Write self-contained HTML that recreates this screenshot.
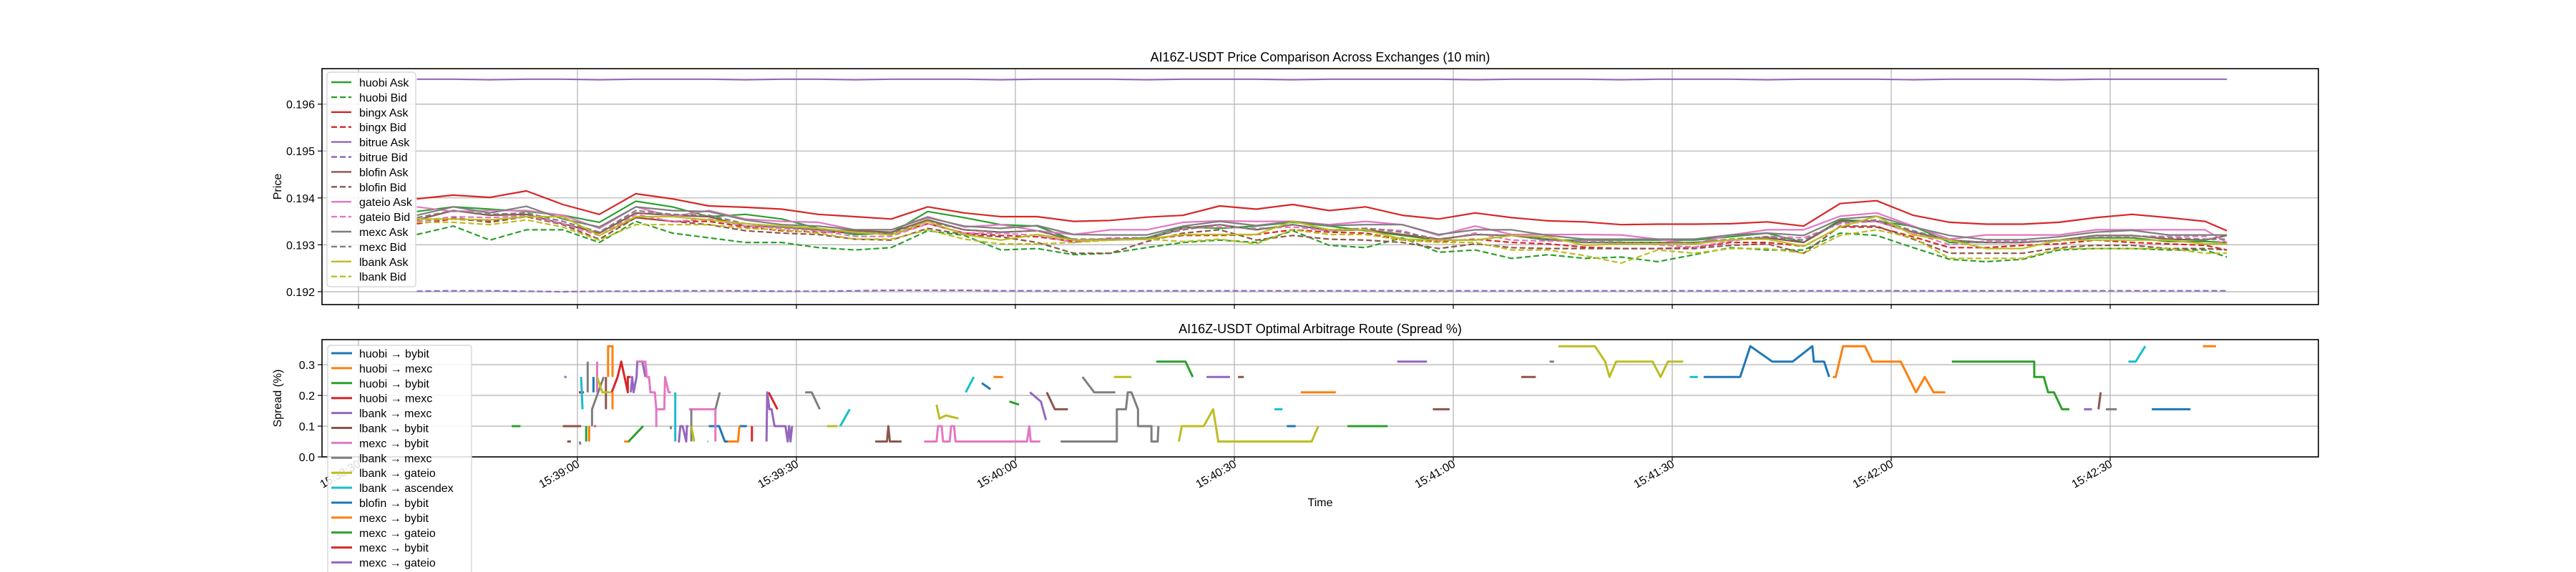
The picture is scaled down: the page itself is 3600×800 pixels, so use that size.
<!DOCTYPE html>
<html><head><meta charset="utf-8">
<style>
html,body{margin:0;padding:0;background:#fff;}
svg{display:block;font-family:"Liberation Sans","DejaVu Sans",sans-serif;}
</style></head>
<body>
<svg id="chart" width="3600" height="800" viewBox="0 0 3600 800" xmlns="http://www.w3.org/2000/svg">
<rect width="3600" height="800" fill="#fff"/>
<g id="gtop"></g><g id="gbot"></g>
</svg>
<script>
// ---------- top chart data (seconds since 15:38:30) ----------
const priceTimes = [8,13,18,23,28,33,38,43,48,53,58,63,68,73,78,83,88,93,98,103,108,113,118,123,128,133,138,143,148,153,158,163,168,173,178,183,188,193,198,203,208,213,218,223,228,233,238,243,248,253,256];
const huobiAsk = [0.19371,0.19381,0.19376,0.19371,0.19363,0.19348,0.19393,0.19381,0.19360,0.19365,0.19355,0.19335,0.19322,0.19325,0.19371,0.19358,0.19343,0.19340,0.19310,0.19310,0.19315,0.19338,0.19335,0.19340,0.19348,0.19340,0.19330,0.19320,0.19310,0.19310,0.19320,0.19310,0.19310,0.19310,0.19310,0.19310,0.19317,0.19325,0.19305,0.19353,0.19350,0.19340,0.19305,0.19305,0.19305,0.19310,0.19315,0.19315,0.19307,0.19307,0.19305];
const huobiBid = [0.19322,0.19340,0.19310,0.19332,0.19332,0.19305,0.19350,0.19325,0.19315,0.19305,0.19305,0.19294,0.19289,0.19294,0.19330,0.19320,0.19289,0.19292,0.19279,0.19282,0.19294,0.19305,0.19310,0.19305,0.19330,0.19299,0.19294,0.19315,0.19284,0.19289,0.19271,0.19279,0.19271,0.19274,0.19264,0.19279,0.19294,0.19289,0.19289,0.19325,0.19320,0.19294,0.19269,0.19264,0.19269,0.19289,0.19292,0.19292,0.19289,0.19289,0.19274];
const bingxAsk = [0.19398,0.19406,0.19401,0.19415,0.19386,0.19365,0.19409,0.19398,0.19383,0.19380,0.19376,0.19365,0.19360,0.19355,0.19381,0.19368,0.19360,0.19360,0.19350,0.19352,0.19359,0.19363,0.19383,0.19376,0.19386,0.19373,0.19381,0.19363,0.19355,0.19368,0.19358,0.19351,0.19349,0.19343,0.19344,0.19344,0.19345,0.19349,0.19340,0.19388,0.19394,0.19363,0.19348,0.19344,0.19344,0.19348,0.19358,0.19365,0.19358,0.19350,0.19330];
const bingxBid = [0.19345,0.19355,0.19350,0.19360,0.19345,0.19320,0.19358,0.19350,0.19350,0.19338,0.19330,0.19327,0.19327,0.19322,0.19345,0.19325,0.19320,0.19317,0.19307,0.19310,0.19312,0.19320,0.19320,0.19322,0.19332,0.19327,0.19325,0.19310,0.19307,0.19312,0.19305,0.19302,0.19295,0.19292,0.19292,0.19294,0.19305,0.19305,0.19297,0.19338,0.19338,0.19317,0.19294,0.19294,0.19299,0.19302,0.19310,0.19305,0.19302,0.19299,0.19289];
const bitrueAsk = [0.19653,0.19653,0.19652,0.19653,0.19653,0.19652,0.19653,0.19653,0.19653,0.19652,0.19653,0.19653,0.19652,0.19653,0.19653,0.19653,0.19652,0.19653,0.19653,0.19653,0.19652,0.19653,0.19653,0.19653,0.19652,0.19653,0.19653,0.19653,0.19653,0.19652,0.19653,0.19653,0.19653,0.19652,0.19653,0.19653,0.19653,0.19652,0.19653,0.19653,0.19653,0.19652,0.19653,0.19653,0.19653,0.19652,0.19653,0.19653,0.19653,0.19653,0.19653];
const bitrueBid = [0.19201,0.19202,0.19202,0.19201,0.19200,0.19201,0.19201,0.19202,0.19202,0.19202,0.19201,0.19201,0.19202,0.19203,0.19203,0.19203,0.19202,0.19202,0.19202,0.19202,0.19202,0.19202,0.19202,0.19202,0.19202,0.19202,0.19202,0.19202,0.19202,0.19202,0.19202,0.19202,0.19202,0.19202,0.19202,0.19202,0.19202,0.19202,0.19202,0.19202,0.19202,0.19202,0.19202,0.19202,0.19202,0.19202,0.19202,0.19202,0.19202,0.19202,0.19202];
const blofinAsk = [0.19353,0.19373,0.19363,0.19365,0.19345,0.19325,0.19368,0.19363,0.19360,0.19340,0.19338,0.19332,0.19330,0.19327,0.19353,0.19332,0.19327,0.19330,0.19310,0.19312,0.19312,0.19335,0.19343,0.19332,0.19343,0.19330,0.19332,0.19322,0.19312,0.19322,0.19320,0.19312,0.19305,0.19305,0.19305,0.19305,0.19310,0.19315,0.19305,0.19350,0.19350,0.19327,0.19310,0.19305,0.19305,0.19310,0.19320,0.19320,0.19312,0.19310,0.19320];
const blofinBid = [0.19350,0.19358,0.19348,0.19360,0.19343,0.19312,0.19358,0.19350,0.19343,0.19330,0.19325,0.19322,0.19312,0.19310,0.19335,0.19322,0.19317,0.19305,0.19282,0.19282,0.19307,0.19325,0.19332,0.19310,0.19320,0.19312,0.19310,0.19305,0.19292,0.19302,0.19294,0.19292,0.19292,0.19292,0.19292,0.19292,0.19299,0.19302,0.19282,0.19340,0.19340,0.19312,0.19282,0.19282,0.19282,0.19294,0.19299,0.19299,0.19292,0.19292,0.19289];
const gateioAsk = [0.19381,0.19371,0.19373,0.19373,0.19363,0.19335,0.19381,0.19360,0.19373,0.19355,0.19350,0.19348,0.19332,0.19332,0.19360,0.19338,0.19343,0.19330,0.19322,0.19332,0.19332,0.19348,0.19351,0.19350,0.19350,0.19343,0.19350,0.19343,0.19320,0.19340,0.19322,0.19322,0.19322,0.19321,0.19312,0.19302,0.19321,0.19332,0.19332,0.19361,0.19368,0.19340,0.19312,0.19321,0.19321,0.19321,0.19332,0.19332,0.19332,0.19332,0.19305];
const gateioBid = [0.19350,0.19360,0.19358,0.19362,0.19345,0.19320,0.19365,0.19350,0.19355,0.19340,0.19335,0.19330,0.19318,0.19318,0.19345,0.19325,0.19325,0.19320,0.19305,0.19315,0.19315,0.19335,0.19338,0.19335,0.19338,0.19330,0.19335,0.19330,0.19308,0.19325,0.19310,0.19308,0.19308,0.19306,0.19300,0.19295,0.19308,0.19318,0.19315,0.19345,0.19350,0.19325,0.19300,0.19308,0.19308,0.19308,0.19318,0.19318,0.19318,0.19318,0.19300];
const mexcAsk = [0.19363,0.19381,0.19368,0.19382,0.19355,0.19338,0.19381,0.19373,0.19371,0.19353,0.19343,0.19340,0.19332,0.19332,0.19358,0.19340,0.19335,0.19341,0.19322,0.19321,0.19321,0.19340,0.19350,0.19341,0.19350,0.19341,0.19343,0.19343,0.19322,0.19332,0.19332,0.19320,0.19312,0.19312,0.19312,0.19312,0.19321,0.19325,0.19320,0.19355,0.19361,0.19338,0.19320,0.19311,0.19311,0.19317,0.19327,0.19331,0.19321,0.19321,0.19321];
const mexcBid = [0.19358,0.19373,0.19365,0.19368,0.19350,0.19327,0.19373,0.19365,0.19363,0.19345,0.19338,0.19332,0.19325,0.19325,0.19350,0.19332,0.19327,0.19330,0.19312,0.19312,0.19315,0.19332,0.19343,0.19332,0.19343,0.19332,0.19335,0.19327,0.19312,0.19322,0.19320,0.19312,0.19305,0.19305,0.19305,0.19305,0.19312,0.19317,0.19310,0.19348,0.19353,0.19330,0.19310,0.19305,0.19305,0.19310,0.19320,0.19320,0.19315,0.19312,0.19312];
const lbankAsk = [0.19355,0.19355,0.19353,0.19360,0.19360,0.19320,0.19360,0.19360,0.19353,0.19345,0.19340,0.19335,0.19327,0.19321,0.19350,0.19322,0.19310,0.19322,0.19310,0.19310,0.19312,0.19322,0.19322,0.19322,0.19350,0.19332,0.19332,0.19312,0.19310,0.19310,0.19320,0.19317,0.19299,0.19302,0.19302,0.19302,0.19311,0.19312,0.19297,0.19338,0.19361,0.19321,0.19310,0.19292,0.19292,0.19310,0.19310,0.19310,0.19310,0.19302,0.19302];
const lbankBid = [0.19348,0.19348,0.19343,0.19353,0.19338,0.19310,0.19343,0.19343,0.19343,0.19335,0.19332,0.19325,0.19312,0.19312,0.19332,0.19312,0.19302,0.19302,0.19305,0.19310,0.19312,0.19307,0.19312,0.19302,0.19332,0.19322,0.19322,0.19310,0.19305,0.19305,0.19289,0.19289,0.19277,0.19261,0.19289,0.19282,0.19292,0.19292,0.19282,0.19320,0.19332,0.19315,0.19271,0.19271,0.19271,0.19292,0.19292,0.19292,0.19292,0.19282,0.19282];
const priceTicks = [0.192,0.193,0.194,0.195,0.196];
const timeTicks = [0,30,60,90,120,150,180,210,240];
const timeTickLabels = ["15:38:30","15:39:00","15:39:30","15:40:00","15:40:30","15:41:00","15:41:30","15:42:00","15:42:30"];

// ---------- bottom chart data ----------
const spreadTicks = [0.0,0.1,0.2,0.3];
const r0t=[30.2,30.9,null,32.2,32.2,null,48,49.4,50.2,50.6,null,52.2,53.2,null,85.4,86.6,null,127.2,128.4];
const r0v=[.21,.21,null,.26,.21,null,.10,.10,.05,.05,null,.10,.10,null,.24,.22,null,.10,.10];
const r1t=[31.6,31.6,null,34.2,34.2,34.8,34.8,null,34.8,34.8,null,36.4,37.2,null,50.6,52.0,52.2,null,87,88.3,null,129.1,133.9];
const r1v=[.10,.05,null,.26,.36,.36,.26,null,.21,.155,null,.05,.05,null,.05,.05,.10,null,.26,.26,null,.21,.21];
const r2t=[21,22.2,null,31.2,31.2,null,37,39,null,89.2,90.5,null,109.3,113.3,114.3];
const r2v=[.10,.10,null,.10,.05,null,.05,.10,null,.18,.17,null,.31,.31,.26];
const r3t=[30.2,30.8,null,32.3,32.5,null,34.7,35.5,36,36.9,36.9,37.3,null,43.8,44,null,53.9,53.9,null,56.2,57.4];
const r3v=[.21,.21,null,.10,.10,null,.21,.26,.31,.21,.26,.26,null,.05,.05,null,.10,.05,null,.21,.155];
const r4t=[28.2,28.5,null,37.3,37.5,37.7,38.1,38.2,38.9,39.3,null,43.9,44.1,44.4,44.9,45,45.2,null,55.9,56,56.3,56.6,57,58.5,58.8,59,59.2,59.4,null,92,93.5,94.2,null,116.2,119.4,null,142.3,146.4];
const r4v=[.26,.26,null,.21,.26,.21,.26,.31,.31,.26,null,.05,.10,.10,.05,.10,.10,null,.05,.21,.155,.155,.10,.10,.05,.10,.05,.10,null,.21,.18,.12,null,.26,.26,null,.31,.31];
const r5t=[28,30.5,null,28.6,29.1,null,33.9,33.9,null,70.8,72.4,72.6,72.8,74.4,null,94.3,95.4,97.2,null,120.5,121.3,null,147.2,149.5,null,159.3,161.3,null,238.4,238.7];
const r5v=[.10,.10,null,.05,.05,null,.26,.155,null,.05,.05,.10,.05,.05,null,.21,.155,.155,null,.26,.26,null,.155,.155,null,.26,.26,null,.155,.21];
const r6t=[32.7,32.7,null,38.2,39.3,39.5,39.8,40.0,40.6,40.8,40.8,40.8,41.9,42.0,42.5,42.8,null,45.3,48.9,48.9,null,77.5,79.2,79.4,79.9,80.1,81.0,81.2,81.6,81.8,91.6,91.9,92.1,93.4];
const r6v=[.31,.21,null,.31,.31,.26,.26,.21,.21,.155,.10,.155,.155,.26,.21,.21,null,.155,.155,.05,null,.05,.05,.10,.10,.05,.05,.10,.10,.05,.05,.10,.05,.05];
const r7t=[30.3,30.4,null,31.4,31.4,null,32,32,33.6,null,42.8,42.8,null,45.6,45.6,null,48.9,49.5,null,61.2,62.1,63.2,null,99.2,100.8,103.7,null,96.2,103.9,103.9,105.15,105.4,105.9,106.8,106.8,108.65,108.65,109.5,109.6,null,163.2,163.8,null,239.4,240.9];
const r7v=[.05,.04,null,.21,.31,null,.10,.155,.26,null,.10,.09,null,.05,.155,null,.155,.21,null,.21,.21,.155,null,.26,.21,.21,null,.05,.05,.155,.155,.21,.21,.155,.10,.10,.05,.05,.10,null,.31,.31,null,.155,.155];
const r8t=[32.7,33.4,34.6,null,45.6,46,null,64.2,65.6,null,79.2,79.6,80.5,82.2,null,103.5,105.9,null,112.4,112.8,115.8,117.1,117.8,130.6,131.5,null,164.4,169.4,170.8,171.4,172.3,177.3,178.4,179.4,181.5];
const r8v=[.26,.21,.21,null,.10,.05,null,.10,.10,null,.17,.125,.135,.125,null,.26,.26,null,.05,.10,.10,.155,.05,.05,.10,null,.36,.36,.31,.26,.31,.31,.26,.31,.31];
const r9t=[30.5,30.7,null,43.4,43.4,null,47.8,47.9,null,66,67.3,null,83.2,84.3,null,125.5,126.6,null,182.4,183.5,null,242.5,243.5,244.8];
const r9v=[.26,.155,null,.21,.05,null,.05,.05,null,.10,.155,null,.21,.26,null,.155,.155,null,.26,.26,null,.31,.31,.36];
const r10t=[184.3,189.3,190.7,193.7,196.5,199.2,199.4,200.8,201.5,null,245.7,251];
const r10v=[.26,.26,.36,.31,.31,.36,.31,.31,.26,null,.155,.155];
const r11t=[202.0,202.4,203.4,206.4,207.4,211.3,213.4,214.6,215.8,217.4,null,252.7,254.5];
const r11v=[.26,.26,.36,.36,.31,.31,.21,.26,.21,.21,null,.36,.36];
const r12t=[135.5,141,null,218.3,229.6,229.6,230.9,231.5,232.3,233.4,234.4];
const r12v=[.10,.10,null,.31,.31,.26,.26,.21,.21,.155,.155];
const r13t=[];
const r13v=[];
const r14t=[236.4,237.5];
const r14v=[.155,.155];

const NS="http://www.w3.org/2000/svg";
function mk(tag, attrs, parent){const e=document.createElementNS(NS,tag);for(const k in attrs)e.setAttribute(k,attrs[k]);parent.appendChild(e);return e;}
const AX_L=450, AX_R=3240;
function xS(s){return 501 + s*10.2;}
const T_TOP=96, T_BOT=426;
function yP(v){return 408 - (v-0.192)*65600;}
const B_TOP=475, B_BOT=639;
function yS(v){return 639 - v*430;}

const gTop=document.getElementById('gtop'), gBot=document.getElementById('gbot');

function axesFrame(g, y0, y1, name){
  const r=mk('rect',{x:AX_L,y:y0,width:AX_R-AX_L,height:y1-y0,fill:'none',stroke:'#000','stroke-width':1.6},g);
  
  
}
function grid(g,y0,y1,yTicks,yFn,fmt,labelName){
  timeTicks.forEach((t,i)=>{
    const x=xS(t);
    const l=mk('line',{x1:x,x2:x,y1:y0,y2:y1,stroke:'#b0b0b0','stroke-width':1.2},g);
    
    
    const tk=mk('line',{x1:x,x2:x,y1:y1,y2:y1+6,stroke:'#000','stroke-width':1.2},g);
    
    
  });
  yTicks.forEach(v=>{
    const y=yFn(v);
    const l=mk('line',{x1:AX_L,x2:AX_R,y1:y,y2:y,stroke:'#b0b0b0','stroke-width':1.2},g);
    
    
    const tk=mk('line',{x1:AX_L-6,x2:AX_L,y1:y,y2:y,stroke:'#000','stroke-width':1.2},g);
    
    
    const t=mk('text',{x:AX_L-10,y:y+6,'text-anchor':'end','font-size':16,fill:'#000'},g);
    t.textContent=fmt(v);
    
    
  });
}

// ---- top chart ----
grid(gTop,T_TOP,T_BOT,priceTicks,yP,v=>v.toFixed(3),'price-tick-label');
const topSeries=[
 ['huobi Ask',huobiAsk,'#2ca02c',false],['huobi Bid',huobiBid,'#2ca02c',true],
 ['bingx Ask',bingxAsk,'#d62728',false],['bingx Bid',bingxBid,'#d62728',true],
 ['bitrue Ask',bitrueAsk,'#9467bd',false],['bitrue Bid',bitrueBid,'#9467bd',true],
 ['blofin Ask',blofinAsk,'#8c564b',false],['blofin Bid',blofinBid,'#8c564b',true],
 ['gateio Ask',gateioAsk,'#e377c2',false],['gateio Bid',gateioBid,'#e377c2',true],
 ['mexc Ask',mexcAsk,'#7f7f7f',false],['mexc Bid',mexcBid,'#7f7f7f',true],
 ['lbank Ask',lbankAsk,'#bcbd22',false],['lbank Bid',lbankBid,'#bcbd22',true]];
topSeries.forEach(([name,vals,col,dash])=>{
  const d=vals.map((v,i)=>(i?'L':'M')+xS(priceTimes[i]).toFixed(1)+','+yP(v).toFixed(1)).join('');
  const p=mk('path',{d:d,fill:'none',stroke:col,'stroke-width':2.2,'stroke-linejoin':'round'},gTop);
  if(dash)p.setAttribute('stroke-dasharray','8,4');
  
  
});
axesFrame(gTop,T_TOP,T_BOT,'price-axes');
const lg=mk('g',{},gTop);


mk('rect',{x:457,y:101,width:124,height:300,rx:4,fill:'#fff','fill-opacity':0.85,stroke:'#d0d0d0','stroke-width':1.2},lg);
topSeries.forEach(([name,vals,col,dash],i)=>{
  const y=115+i*20.9;
  const l=mk('line',{x1:463,x2:491,y1:y,y2:y,stroke:col,'stroke-width':2.4},lg);
  if(dash)l.setAttribute('stroke-dasharray','8,4');
  const t=mk('text',{x:502,y:y+6,'font-size':16,fill:'#000'},lg);
  t.textContent=name;
  
  
});
let tt=mk('text',{x:1845,y:86,'text-anchor':'middle','font-size':18},gTop);
tt.textContent='AI16Z-USDT Price Comparison Across Exchanges (10 min)';


tt=mk('text',{x:393,y:261,'text-anchor':'middle','font-size':16,transform:'rotate(-90 393 261)'},gTop);
tt.textContent='Price';



// ---- bottom chart ----
grid(gBot,B_TOP,B_BOT,spreadTicks,yS,v=>v.toFixed(1),'spread-tick-label');
const routeNames=['huobi → bybit','huobi → mexc','huobi → bybit','huobi → mexc','lbank → mexc','lbank → bybit','mexc → bybit','lbank → mexc','lbank → gateio','lbank → ascendex','blofin → bybit','mexc → bybit','mexc → gateio','mexc → bybit','mexc → gateio'];
const routeColors=['#1f77b4','#ff7f0e','#2ca02c','#d62728','#9467bd','#8c564b','#e377c2','#7f7f7f','#bcbd22','#17becf','#1f77b4','#ff7f0e','#2ca02c','#d62728','#9467bd'];
const routeT=[r0t,r1t,r2t,r3t,r4t,r5t,r6t,r7t,r8t,r9t,r10t,r11t,r12t,r13t,r14t];
const routeV=[r0v,r1v,r2v,r3v,r4v,r5v,r6v,r7v,r8v,r9v,r10v,r11v,r12v,r13v,r14v];
routeT.forEach((ts,k)=>{
  let d='',pen=false;
  ts.forEach((t,i)=>{
    const v=routeV[k][i];
    if(t===null||v===null){pen=false;return;}
    d+=(pen?'L':'M')+xS(t).toFixed(1)+','+yS(v).toFixed(1);pen=true;
  });
  if(!d)return;
  const p=mk('path',{d:d,fill:'none',stroke:routeColors[k],'stroke-width':3,'stroke-linejoin':'round'},gBot);
  
  
});
axesFrame(gBot,B_TOP,B_BOT,'spread-axes');
timeTicks.forEach((t,i)=>{
  const x=xS(t)+4, y=652;
  const tx=mk('text',{x:x,y:y,'text-anchor':'end','font-size':16,transform:'rotate(-30 '+x+' '+y+')'},gBot);
  tx.textContent=timeTickLabels[i];
  
  
});
const lg2=mk('g',{},gBot);


mk('rect',{x:458,y:483,width:201,height:330,rx:4,fill:'#fff','fill-opacity':0.85,stroke:'#d0d0d0','stroke-width':1.2},lg2);
routeNames.forEach((n,i)=>{
  const y=494+i*20.9;
  mk('line',{x1:463,x2:492,y1:y,y2:y,stroke:routeColors[i],'stroke-width':3},lg2);
  const t=mk('text',{x:502,y:y+6,'font-size':16,fill:'#000'},lg2);
  t.textContent=n;
  
  
});
tt=mk('text',{x:1845,y:466,'text-anchor':'middle','font-size':18},gBot);
tt.textContent='AI16Z-USDT Optimal Arbitrage Route (Spread %)';


tt=mk('text',{x:393,y:557,'text-anchor':'middle','font-size':16,transform:'rotate(-90 393 557)'},gBot);
tt.textContent='Spread (%)';


tt=mk('text',{x:1845,y:708,'text-anchor':'middle','font-size':16},gBot);
tt.textContent='Time';


</script>
</body></html>
